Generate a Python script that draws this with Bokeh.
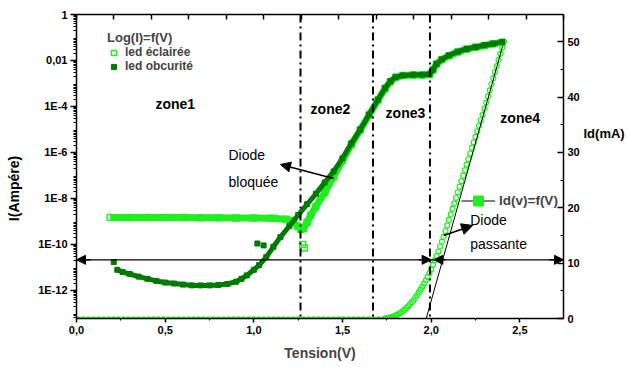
from math import pi
from bokeh.plotting import figure
from bokeh.models import (Range1d, LinearAxis, LinearScale, FixedTicker, CustomJSTickFormatter,
                          Span, Label, Arrow, NormalHead, Legend, LegendItem)
from bokeh.embed import file_html
from bokeh.resources import INLINE

# ---------------- data ----------------
# led obcurité (dark green filled squares), current in A
V_dark = [0.23, 0.26, 0.30, 0.35, 0.40, 0.45, 0.50, 0.55, 0.60, 0.65, 0.70, 0.75, 0.80, 0.85,
          0.90, 0.93, 0.96, 1.00, 1.03, 1.07, 1.11, 1.15, 1.20, 1.25, 1.30, 1.35, 1.40, 1.45,
          1.50, 1.55, 1.60, 1.65, 1.70, 1.74, 1.77, 1.80, 1.84, 1.90, 1.95, 1.99, 2.01, 2.03,
          2.06, 2.10, 2.15, 2.20, 2.25, 2.30, 2.35, 2.40]
I_dark = [7.9e-12, 6.3e-12, 5.2e-12, 4.0e-12, 3.2e-12, 2.6e-12, 2.2e-12, 2.0e-12, 1.8e-12,
          1.66e-12, 1.66e-12, 1.66e-12, 1.74e-12, 1.9e-12, 2.4e-12, 3.2e-12, 4.5e-12, 7.9e-12,
          1.26e-11, 2.8e-11, 7.9e-11, 2.1e-10, 6.3e-10, 1.9e-9, 5.6e-9, 1.6e-8, 5.0e-8, 1.5e-7,
          5.6e-7, 2.5e-6, 1.0e-5, 4.5e-5, 2.0e-4, 6.3e-4, 1.26e-3, 1.9e-3, 2.24e-3, 2.4e-3,
          2.4e-3, 2.5e-3, 4.0e-3, 7.1e-3, 1.12e-2, 1.66e-2, 2.4e-2, 3.2e-2, 3.8e-2, 4.6e-2,
          5.4e-2, 6.3e-2]
V_dark_out = [0.21, 1.02, 1.055]
I_dark_out = [1.7e-11, 1.1e-10, 9.1e-11]

# led éclairée (light green hollow squares), current in A
V_light = [0.19, 0.30, 0.40, 0.50, 0.60, 0.70, 0.80, 0.90, 1.00, 1.10, 1.18, 1.22, 1.245, 1.265,
           1.28, 1.30, 1.32, 1.35, 1.40, 1.45, 1.50, 1.55, 1.60, 1.65, 1.70, 1.74, 1.77, 1.80,
           1.84, 1.90, 1.95, 1.99, 2.01, 2.03, 2.06, 2.10, 2.15, 2.20, 2.25, 2.30, 2.35, 2.40]
I_light = [1.5e-9, 1.5e-9, 1.5e-9, 1.5e-9, 1.48e-9, 1.45e-9, 1.45e-9, 1.42e-9, 1.4e-9, 1.38e-9,
           1.26e-9, 1.07e-9, 6.3e-10, 4.5e-10, 5.0e-10, 8.9e-10, 1.8e-9, 4.5e-9, 1.8e-8, 8.9e-8,
           4.5e-7, 2.2e-6, 9.5e-6, 4.3e-5, 1.9e-4, 6.0e-4, 1.2e-3, 1.85e-3, 2.2e-3, 2.35e-3,
           2.35e-3, 2.45e-3, 3.9e-3, 7.0e-3, 1.1e-2, 1.62e-2, 2.35e-2, 3.1e-2, 3.75e-2, 4.5e-2,
           5.3e-2, 6.2e-2]
V_light_out = [1.275, 1.285]
I_light_out = [1.0e-10, 7.1e-11]

# Id(v)=f(V) (right axis, mA)
V_id_flat = [0.0, 1.74]
Id_flat = [0.0, 0.0]
V_id = [1.74, 1.75, 1.76, 1.77, 1.78, 1.79, 1.80, 1.81, 1.82, 1.83, 1.84, 1.85, 1.86, 1.87,
        1.88, 1.89, 1.90, 1.91, 1.92, 1.93, 1.94, 1.95, 1.96, 1.97, 1.98, 1.99, 2.00, 2.01,
        2.02, 2.03, 2.04, 2.05, 2.06, 2.07, 2.08, 2.09, 2.10, 2.11, 2.12, 2.13, 2.14, 2.15,
        2.16, 2.17, 2.18, 2.19, 2.20, 2.21, 2.22, 2.23, 2.24, 2.25, 2.26, 2.27, 2.28, 2.29,
        2.30, 2.31, 2.32, 2.33, 2.34, 2.35, 2.36, 2.37, 2.38, 2.39, 2.40, 2.41]
Id_mA = [0.0, 0.05, 0.1, 0.2, 0.3, 0.4, 0.55, 0.7, 0.9, 1.1, 1.35, 1.6, 1.9, 2.2, 2.55, 2.9,
         3.3, 3.75, 4.2, 4.7, 5.2, 5.75, 6.3, 6.9, 7.5, 8.2, 8.9, 9.7, 10.5, 11.3, 12.1, 13.0,
         13.9, 14.8, 15.8, 16.8, 17.8, 18.8, 19.8, 20.8, 21.8, 22.8, 23.8, 24.8, 25.8, 26.8,
         27.8, 28.8, 29.8, 30.8, 31.8, 32.8, 33.8, 34.8, 35.8, 36.8, 37.9, 39.0, 40.1, 41.2,
         42.3, 43.4, 44.5, 45.6, 46.7, 47.8, 48.9, 50.0]

# tangent line and zone boundaries
V_tangent = [1.972, 2.41]
Id_tangent = [0.0, 50.0]
zone_bounds = [1.263, 1.672, 1.993]
level_mA = 10.6

x_ticks = [0.0, 0.5, 1.0, 1.5, 2.0, 2.5]
x_minor = [0.25, 0.75, 1.25, 1.75, 2.25]
y_ticks = [1e-12, 1e-10, 1e-8, 1e-6, 1e-4, 1e-2, 1.0]
id_ticks = [0, 10, 20, 30, 40, 50]
id_minor = [5, 15, 25, 35, 45]

X_MAX = 2.746
top_ticks = [X_MAX * k / 13 for k in range(14)]
y_minor = [m * 10.0 ** e for e in range(-14, 0) for m in range(2, 10)]

FONT = "Liberation Sans"
LIME = "#1fef1f"
DARK = "#007a00"

p = figure(width=627, height=367, x_range=Range1d(0, X_MAX),
           y_range=Range1d(10 ** -13.22, 1.0), y_axis_type="log",
           output_backend="svg", toolbar_location=None,
           min_border_left=76, min_border_right=64, min_border_top=14, min_border_bottom=49)
p.extra_y_ranges = {"id": Range1d(0, 54.9)}
p.extra_y_scales = {"id": LinearScale()}
p.xgrid.visible = False
p.ygrid.visible = False
p.outline_line_color = None
p.background_fill_color = "white"

def style_axis(ax, size="11px"):
    ax.axis_line_color = "black"
    ax.axis_line_width = 1.5
    ax.major_tick_line_color = "black"
    ax.minor_tick_line_color = "black"
    ax.major_tick_line_width = 1.5
    ax.minor_tick_line_width = 1
    ax.major_label_text_font = FONT
    ax.major_label_text_font_style = "bold"
    ax.major_label_text_font_size = size
    ax.major_label_text_color = "black"
    ax.axis_label_standoff = 0

def title_axis(ax, text, size="14px"):
    # an axis used only to carry a single text label outside the frame
    ax.axis_line_color = None
    ax.major_tick_line_color = None
    ax.minor_tick_line_color = None
    ax.major_tick_in = 0
    ax.major_tick_out = 0
    ax.minor_tick_in = 0
    ax.minor_tick_out = 0
    ax.axis_label_standoff = 0
    ax.major_label_text_font = FONT
    ax.major_label_text_font_style = "bold"
    ax.major_label_text_font_size = size
    ax.major_label_text_color = "black"
    ax.formatter = CustomJSTickFormatter(code="return '%s';" % text)

# bottom axis
xa = p.xaxis[0]
style_axis(xa)
xa.ticker = FixedTicker(ticks=x_ticks, minor_ticks=x_minor)
xa.formatter = CustomJSTickFormatter(code="return tick.toFixed(1).replace('.', ',');")
xa.major_tick_in = 0
xa.major_tick_out = 4
xa.minor_tick_in = 0
xa.minor_tick_out = 2
xa.major_label_standoff = 3
xa.axis_label = "Tension(V)"
xa.axis_label_text_font = FONT
xa.axis_label_text_font_style = "bold"
xa.axis_label_text_font_size = "14px"
xa.axis_label_standoff = 8

# left axis
ya = p.yaxis[0]
style_axis(ya)
ya.ticker = FixedTicker(ticks=y_ticks, minor_ticks=y_minor)
ya.formatter = CustomJSTickFormatter(code="""
const e = Math.round(Math.log10(tick));
if (e == 0) return '1';
if (e == -2) return '0,01';
return '1E' + e;
""")
ya.major_tick_in = 0
ya.major_tick_out = 6
ya.minor_tick_in = 0
ya.minor_tick_out = 3
ya.major_label_standoff = 3

# left title (I(Ampére)) carried by an outer axis
la2 = LinearAxis(ticker=FixedTicker(ticks=[10 ** -7.565], minor_ticks=[]))
title_axis(la2, "I(Ampére)")
la2.major_label_orientation = "parallel"
la2.major_label_standoff = 13
p.add_layout(la2, "left")

# right axis
ra = LinearAxis(y_range_name="id", ticker=FixedTicker(ticks=id_ticks, minor_ticks=id_minor))
style_axis(ra)
ra.major_tick_in = 6
ra.major_tick_out = 0
ra.minor_tick_in = 3
ra.minor_tick_out = 0
ra.major_label_standoff = 4
p.add_layout(ra, "right")

# right title (Id(mA)) carried by an outer axis
ra2 = LinearAxis(y_range_name="id", ticker=FixedTicker(ticks=[33.45], minor_ticks=[]))
title_axis(ra2, "Id(mA)", size="13px")
ra2.major_label_standoff = 1
p.add_layout(ra2, "right")

# top axis
ta = LinearAxis(ticker=FixedTicker(ticks=top_ticks, minor_ticks=[]))
style_axis(ta, "1px")
ta.formatter = CustomJSTickFormatter(code="return '';")
ta.major_tick_in = 5
ta.major_tick_out = 0
ta.minor_tick_out = 0
ta.major_label_standoff = 0
p.add_layout(ta, "above")

# zone boundaries (dash-dot)
for b in zone_bounds:
    p.add_layout(Span(location=b, dimension="height", line_color="black",
                      line_width=2, line_dash="8 4 2 4"))

# horizontal level line with arrows
p.add_layout(Span(location=level_mA, dimension="width", y_range_name="id",
                  line_color="black", line_width=1.3))

def head(size=10):
    return NormalHead(size=size, fill_color="black", line_color="black", line_width=1)

for xs, xe in [(0.08, 0.0), (X_MAX - 0.08, X_MAX), (1.93, 2.0), (2.08, 2.015)]:
    p.add_layout(Arrow(end=head(9), x_start=xs, y_start=level_mA, x_end=xe, y_end=level_mA,
                       y_range_name="id", line_color="black", line_width=1.3))

# Id curve (right axis)
p.line(V_id_flat, Id_flat, y_range_name="id", line_color=LIME, line_width=4, line_dash="4 1")
p.scatter(V_id, Id_mA, y_range_name="id", marker="circle", size=5, fill_color=None,
          line_color=LIME, line_width=1.2)
p.line(V_tangent, Id_tangent, y_range_name="id", line_color="black", line_width=1)

# log series
p.line(V_light, I_light, line_color=LIME, line_width=7)
sc_light = p.scatter(V_light, I_light, marker="square", size=6, fill_color=None,
                     line_color=LIME, line_width=1.5)
p.scatter(V_light_out, I_light_out, marker="square", size=6, fill_color=None,
          line_color=LIME, line_width=1.5)
p.line(V_dark, I_dark, line_color=DARK, line_width=5)
sc_dark = p.scatter(V_dark, I_dark, marker="square", size=5, fill_color=DARK,
                    line_color=DARK)
p.scatter(V_dark_out, I_dark_out, marker="square", size=5, fill_color=DARK, line_color=DARK)

# arrows for annotations
p.add_layout(Arrow(end=head(10), x_start=1.45, y_start=10 ** -7.13, x_end=1.15,
                   y_end=10 ** -6.52, line_color="black", line_width=1.6))
p.add_layout(Arrow(end=head(11), x_start=2.07, y_start=15.0, x_end=2.234, y_end=16.8,
                   y_range_name="id", line_color="black", line_width=1.6))

# texts
def lab(x, y, t, bold=True, size="14px", yr="default"):
    p.add_layout(Label(x=x, y=y, text=t, y_range_name=yr, text_font=FONT,
                       text_font_style="bold" if bold else "normal", text_font_size=size,
                       text_baseline="middle", text_align="left", text_color="black"))

lab(0.445, 10 ** -3.9, "zone1")
lab(1.32, 10 ** -4.1, "zone2")
lab(1.743, 10 ** -4.3, "zone3")
lab(2.39, 10 ** -4.48, "zone4")
lab(0.857, 10 ** -6.13, "Diode", bold=False)
lab(0.857, 10 ** -7.3, "bloquée", bold=False)
lab(2.22, 17.7, "Diode", bold=False, yr="id")
lab(2.22, 13.5, "passante", bold=False, yr="id")

# legends
leg1 = Legend(items=[LegendItem(label="led éclairée", renderers=[sc_light]),
                     LegendItem(label="led obcurité", renderers=[sc_dark])],
              title="Log(I)=f(V)", location=(31, 245),
              title_text_font=FONT, title_text_font_style="bold", title_text_font_size="13px",
              title_standoff=0, label_text_font=FONT, label_text_font_style="bold",
              label_text_font_size="12px", glyph_width=13, glyph_height=13, label_height=13,
              label_standoff=5, spacing=0, padding=0, margin=0,
              border_line_color=None, background_fill_alpha=0)
p.add_layout(leg1)

# legend-only renderers for Id(v)=f(V) (hidden in the plot, shown in the legend)
lr = p.line(V_id, Id_mA, y_range_name="id", line_color="black", line_width=1, visible=False)
sr = p.scatter(V_id, Id_mA, y_range_name="id", marker="square", fill_color=LIME,
               line_color=LIME, visible=False)
leg2 = Legend(items=[LegendItem(label="Id(v)=f(V)", renderers=[lr, sr])],
              location=(385, 105), label_text_font=FONT, label_text_font_style="bold",
              label_text_font_size="13.5px", glyph_width=34, glyph_height=25, label_height=25,
              label_standoff=4, spacing=0, padding=0, margin=0,
              border_line_color=None, background_fill_alpha=0,
              inactive_fill_alpha=0)
p.add_layout(leg2)

open("out.html", "w").write(file_html(p, INLINE))
